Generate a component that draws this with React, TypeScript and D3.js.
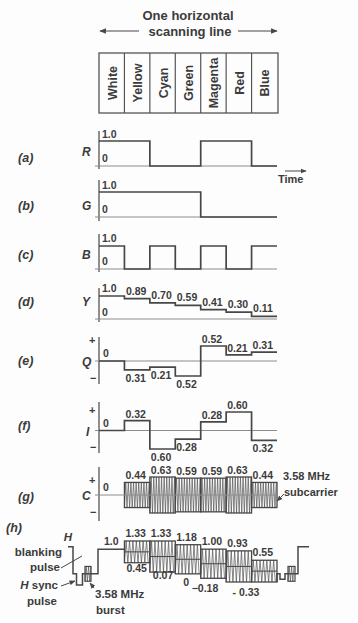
import React from "react";
import * as d3 from "d3";

// ---------- data ----------
const COLORS = ["White", "Yellow", "Cyan", "Green", "Magenta", "Red", "Blue"];
const R_VALUES = [1, 1, 0, 0, 1, 1, 0];
const G_VALUES = [1, 1, 1, 1, 0, 0, 0];
const B_VALUES = [1, 0, 1, 0, 1, 0, 1];
const Y_VALUES = [1.0, 0.89, 0.7, 0.59, 0.41, 0.3, 0.11];
const Y_LABELS = ["1.0", "0.89", "0.70", "0.59", "0.41", "0.30", "0.11"];
const Q_VALUES = [0, -0.31, -0.21, -0.52, 0.52, 0.21, 0.31];
const Q_LABELS = ["", "0.31", "0.21", "0.52", "0.52", "0.21", "0.31"];
const I_VALUES = [0, 0.32, -0.6, -0.28, 0.28, 0.6, -0.32];
const I_LABELS = ["", "0.32", "0.60", "0.28", "0.28", "0.60", "0.32"];
const C_VALUES = [0, 0.44, 0.63, 0.59, 0.59, 0.63, 0.44];
const C_LABELS = ["", "0.44", "0.63", "0.59", "0.59", "0.63", "0.44"];
const H_MAX = [1.0, 1.33, 1.33, 1.18, 1.0, 0.93, 0.55];
const H_MIN = [1.0, 0.45, 0.07, 0, -0.18, -0.33, -0.33];
const H_MAX_LABELS = ["1.0", "1.33", "1.33", "1.18", "1.00", "0.93", "0.55"];
const H_MIN_LABELS = ["", "0.45", "0.07", "0", "\u22120.18", "", "- 0.33"];
const PANEL_LETTERS = ["a", "b", "c", "d", "e", "f", "g", "h"];

// ---------- layout ----------
const W = 358;
const H = 623;
const X0 = 99;
const X1 = 277;
const FONT = "'Liberation Sans', Arial, Helvetica, sans-serif";
const INK = "#3b3b3b";
const SIG = "#474747";
const THIN = "#8c8c8c";

const x = d3.scaleBand<string>().domain(COLORS).range([X0, X1]);
const bw = x.bandwidth();
const xs = (i: number) => x(COLORS[i]) as number;

const yR = d3.scaleLinear().domain([0, 1]).range([166, 141]);
const yG = d3.scaleLinear().domain([0, 1]).range([217, 192]);
const yB = d3.scaleLinear().domain([0, 1]).range([269, 246]);
const yY = d3.scaleLinear().domain([0, 1]).range([319, 296]);
const yQ = d3.scaleLinear().domain([-0.52, 0.52]).range([376, 346]);
const yI = d3.scaleLinear().domain([-0.6, 0.6]).range([449, 412]);
const yC = d3.scaleLinear().domain([-0.63, 0.63]).range([513, 477]);
const yH = d3.scaleLinear().domain([-0.33, 1.33]).range([582, 541]);

function stepPath(vals: number[], y: d3.ScaleLinear<number, number>) {
  const pts: [number, number][] = vals.map((v, i) => [xs(i), y(v)]);
  pts.push([X1, y(vals[vals.length - 1])]);
  return d3.line().curve(d3.curveStepAfter)(pts) as string;
}

function zigzag(xa: number, xb: number, hi: number, lo: number, period: number) {
  const pts: [number, number][] = [];
  let k = 0;
  for (let t = xa; t <= xb + 0.01; t += period / 2) {
    pts.push([t, k % 2 === 0 ? lo : hi]);
    k++;
  }
  return d3.line()(pts) as string;
}

const T = (props: any) => (
  <text fontFamily={FONT} fill={INK} fontWeight={700} fontSize={10.5} {...props} />
);

function Axis({ top, bottom, base }: { top: number; bottom: number; base: number }) {
  return (
    <g>
      <line x1={X0} x2={X0} y1={top} y2={bottom} stroke={SIG} strokeWidth={1.2} />
      <line x1={X0 - 4} x2={X1} y1={base} y2={base} stroke={THIN} strokeWidth={1} />
    </g>
  );
}

export default function App() {
  const letterY = [162, 210, 259, 306, 365, 430, 501];
  const varLabels = [
    { t: "R", y: 156 },
    { t: "G", y: 210 },
    { t: "B", y: 259 },
    { t: "Y", y: 306 },
    { t: "Q", y: 366 },
    { t: "I", y: 436 },
    { t: "C", y: 500 },
  ];

  const hLowDx = [0, 2, 3, 8, -9, 0, -19];
  const hLowDy = [0, 9, 7, 12, 14, 0, 14];

  // h sync / blanking schematic (levels in signal units)
  const leftBlank: [number, number][] = [
    [68, 1.1], [73, 1.1], [73, 0], [76.5, 0], [76.5, -0.45], [82.5, -0.45], [82.5, 0], [98, 0], [98, 1.0], [xs(1), 1.0],
  ];
  const rightBlank: [number, number][] = [
    [X1, H_MIN[6]], [X1, 0], [280, 0], [280, -0.22], [285, -0.22], [285, 0], [298, 0], [298, 1.1], [309, 1.1],
  ];
  const lineH = (pts: [number, number][]) => d3.line()(pts.map(([a, b]) => [a, yH(b)] as [number, number])) as string;

  return (
    <svg
      width={W}
      height={H}
      viewBox={`0 0 ${W} ${H}`}
      style={{ position: "absolute", left: 0, top: 0, background: "#fdfdfd" }}
    >
      <defs>
        <marker id="ah" viewBox="0 0 10 10" refX="9" refY="5" markerWidth="6" markerHeight="6" orient="auto-start-reverse">
          <path d="M0,1 L10,5 L0,9 z" fill={SIG} />
        </marker>
      </defs>
      <rect x={0} y={0} width={W} height={H} fill="#fdfdfd" />

      {/* title */}
      <T x={188} y={20} fontSize={13} textAnchor="middle">One horizontal</T>
      <T x={190} y={36} fontSize={13} textAnchor="middle">scanning line</T>
      <line x1={139} x2={100} y1={31} y2={31} stroke={SIG} strokeWidth={1.1} markerEnd="url(#ah)" />
      <line x1={238} x2={277} y1={31} y2={31} stroke={SIG} strokeWidth={1.1} markerEnd="url(#ah)" />

      {/* color bar box */}
      <rect x={X0} y={53} width={X1 + 1 - X0} height={60} fill="none" stroke="#555" strokeWidth={1.3} />
      {COLORS.map((c, i) => (
        <g key={c}>
          {i > 0 && <line x1={xs(i)} x2={xs(i)} y1={53} y2={113} stroke="#555" strokeWidth={1.2} />}
          <T
            transform={`translate(${xs(i) + bw / 2 + 1},83) rotate(-90)`}
            textAnchor="middle"
            dominantBaseline="central"
            fontSize={12.5}
          >
            {c}
          </T>
        </g>
      ))}

      {/* panel letters */}
      {PANEL_LETTERS.slice(0, 7).map((l, i) => (
        <T key={l} x={18} y={letterY[i]} fontSize={12.5} fontStyle="italic">
          ({l})
        </T>
      ))}
      <T x={6} y={532} fontSize={12.5} fontStyle="italic">(h)</T>

      {varLabels.map((v) => (
        <T key={v.t} x={v.t === "I" ? 86 : 82} y={v.y} fontSize={12}>
          <tspan fontStyle="italic">{v.t}</tspan>
        </T>
      ))}

      {/* (a) R */}
      <Axis top={131} bottom={169} base={yR(0)} />
      <T x={102} y={138}>1.0</T>
      <T x={102} y={162}>0</T>
      <path d={stepPath(R_VALUES, yR)} fill="none" stroke={SIG} strokeWidth={1.7} />
      <line x1={285} x2={306} y1={171} y2={171} stroke={SIG} strokeWidth={1} markerEnd="url(#ah)" />
      <T x={278} y={183} fontSize={11}>Time</T>

      {/* (b) G */}
      <Axis top={180} bottom={221} base={yG(0)} />
      <T x={102} y={189}>1.0</T>
      <T x={102} y={213}>0</T>
      <path d={stepPath(G_VALUES, yG)} fill="none" stroke={SIG} strokeWidth={1.7} />

      {/* (c) B */}
      <Axis top={234} bottom={272} base={yB(0)} />
      <T x={102} y={242}>1.0</T>
      <T x={102} y={265}>0</T>
      <path d={stepPath(B_VALUES, yB)} fill="none" stroke={SIG} strokeWidth={1.7} />

      {/* (d) Y */}
      <Axis top={288} bottom={322} base={yY(0)} />
      <T x={102} y={316}>0</T>
      <path d={stepPath(Y_VALUES, yY)} fill="none" stroke={SIG} strokeWidth={1.7} />
      {Y_LABELS.map((l, i) => (
        <T key={i} x={xs(i) + (i === 0 ? 3 : 1.5)} y={yY(Y_VALUES[i]) - 4}>{l}</T>
      ))}

      {/* (e) Q */}
      <Axis top={337} bottom={384} base={yQ(0)} />
      <T x={89} y={344} fontSize={11}>+</T>
      <T x={90} y={382} fontSize={11}>{"\u2212"}</T>
      <T x={103} y={yQ(0) - 4}>0</T>
      <path d={stepPath(Q_VALUES, yQ)} fill="none" stroke={SIG} strokeWidth={1.7} />
      {Q_LABELS.map((l, i) =>
        l ? (
          <T key={i} x={xs(i) + 1} y={Q_VALUES[i] < 0 ? yQ(Q_VALUES[i]) + 12 : yQ(Q_VALUES[i]) - 3}>{l}</T>
        ) : null
      )}

      {/* (f) I */}
      <Axis top={402} bottom={453} base={yI(0)} />
      <T x={89} y={414} fontSize={11}>+</T>
      <T x={90} y={451} fontSize={11}>{"\u2212"}</T>
      <T x={103} y={yI(0) - 4}>0</T>
      <path d={stepPath(I_VALUES, yI)} fill="none" stroke={SIG} strokeWidth={1.7} />
      {I_LABELS.map((l, i) =>
        l ? (
          <T key={i} x={xs(i) + 1} y={I_VALUES[i] < 0 ? yI(I_VALUES[i]) + 12 : yI(I_VALUES[i]) - 3}>{l}</T>
        ) : null
      )}

      {/* (g) C */}
      <line x1={X0} x2={X0} y1={467} y2={521} stroke={SIG} strokeWidth={1.2} />
      <T x={89} y={484} fontSize={11}>+</T>
      <T x={90} y={516} fontSize={11}>{"\u2212"}</T>
      <T x={103} y={yC(0) - 4}>0</T>
      {C_VALUES.map((c, i) =>
        c > 0 ? (
          <g key={i}>
            <path d={zigzag(xs(i), xs(i) + bw, yC(c), yC(-c), 2.6)} fill="none" stroke="#555" strokeWidth={0.7} />
            <rect x={xs(i)} y={yC(c)} width={bw} height={yC(-c) - yC(c)} fill="none" stroke={SIG} strokeWidth={1.3} />
          </g>
        ) : null
      )}
      <line x1={X0 - 4} x2={X1} y1={yC(0)} y2={yC(0)} stroke={THIN} strokeWidth={1} />
      {C_LABELS.map((l, i) => (l ? <T key={i} x={xs(i) + 1} y={yC(C_VALUES[i]) - 3}>{l}</T> : null))}
      <T x={283} y={480} fontSize={11}>3.58 MHz</T>
      <T x={284} y={496} fontSize={11}>subcarrier</T>
      <line x1={284} y1={494} x2={277} y2={501} stroke={SIG} strokeWidth={1} markerEnd="url(#ah)" />

      {/* (h) composite */}
      <path d={lineH(leftBlank)} fill="none" stroke={SIG} strokeWidth={1.5} />
      <path d={lineH(rightBlank)} fill="none" stroke={SIG} strokeWidth={1.5} />
      {/* bursts */}
      {[
        [85, 91],
        [288, 295],
      ].map(([a, b], k) => (
        <g key={k}>
          <path d={zigzag(a, b, yH(0.3), yH(-0.3), 2.4)} fill="none" stroke="#555" strokeWidth={0.7} />
          <rect x={a} y={yH(0.3)} width={b - a} height={yH(-0.3) - yH(0.3)} fill="none" stroke={SIG} strokeWidth={1.2} />
        </g>
      ))}
      {H_MAX.map((hi, i) =>
        i > 0 ? (
          <g key={i}>
            <path d={zigzag(xs(i), xs(i) + bw, yH(hi), yH(H_MIN[i]), 3.4)} fill="none" stroke="#555" strokeWidth={0.7} />
            <rect x={xs(i)} y={yH(hi)} width={bw} height={yH(H_MIN[i]) - yH(hi)} fill="none" stroke={SIG} strokeWidth={1.3} />
            <line x1={xs(i)} x2={xs(i) + bw} y1={yH(Y_VALUES[i])} y2={yH(Y_VALUES[i])} stroke={SIG} strokeWidth={1} />
          </g>
        ) : null
      )}
      {H_MAX_LABELS.map((l, i) => (
        <T key={i} x={xs(i) + (i === 0 ? 5 : 1)} y={yH(H_MAX[i]) - 4}>{l}</T>
      ))}
      {H_MIN_LABELS.map((l, i) =>
        l ? (
          <T key={i} x={xs(i) + hLowDx[i]} y={yH(H_MIN[i]) + hLowDy[i]}>{l}</T>
        ) : null
      )}

      {/* h annotations */}
      <T x={72} y={541} fontSize={11.5} fontStyle="italic" textAnchor="end">H</T>
      <T x={62} y={556} fontSize={11.5} textAnchor="end">blanking</T>
      <T x={60} y={571} fontSize={11.5} textAnchor="end">pulse</T>
      <line x1={61} y1={568} x2={82} y2={556} stroke={SIG} strokeWidth={1} />
      <T x={58} y={589} fontSize={11.5} textAnchor="end">
        <tspan fontStyle="italic">H</tspan> sync
      </T>
      <T x={57} y={605} fontSize={11.5} textAnchor="end">pulse</T>
      <line x1={61} y1={586} x2={75} y2={581} stroke={SIG} strokeWidth={1} markerEnd="url(#ah)" />
      <line x1={94} y1={588} x2={90} y2={583} stroke={SIG} strokeWidth={1} markerEnd="url(#ah)" />
      <T x={95} y={598} fontSize={11.5}>3.58 MHz</T>
      <T x={96} y={614} fontSize={11.5}>burst</T>
    </svg>
  );
}
